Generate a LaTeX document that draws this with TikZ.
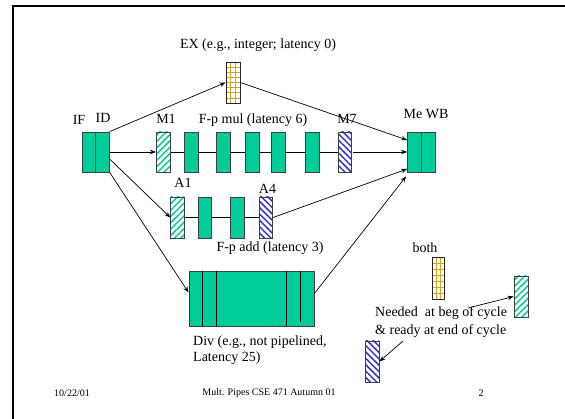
\documentclass[tikz,border=0pt]{standalone}
\usepackage{fontspec}
\setmainfont{Liberation Serif}
\usetikzlibrary{arrows.meta,patterns.meta,calc}

\definecolor{stagegreen}{RGB}{0,204,153}
\definecolor{hatchblue}{RGB}{51,51,204}
\definecolor{gridgold}{RGB}{218,165,32}

\tikzset{
  stage/.style={draw=black!75, line width=0.8pt, fill=stagegreen, minimum width=13.5pt, minimum height=40pt, inner sep=0pt},
  hatchin/.style={stage, pattern={Lines[angle=45,distance=4.5pt,line width=1.5pt]}, pattern color=stagegreen},
  hatchout/.style={stage, pattern={Lines[angle=-45,distance=4.5pt,line width=1.5pt]}, pattern color=hatchblue},
  gridbox/.style={draw=black!85, line width=0.8pt, minimum width=13pt, minimum height=41pt, inner sep=0pt},
  gridline/.style={gridgold, line width=0.7pt},
  link/.style={line width=0.7pt},
  arr/.style={-{Stealth[length=6pt,width=4.5pt]}, line width=0.7pt},
  lbl/.style={font=\fontsize{14}{16}\selectfont, inner sep=0pt},
  foot/.style={font=\fontsize{10}{12}\selectfont, inner sep=0pt}
}

\begin{document}
\begin{tikzpicture}[x=1pt,y=-1pt]
\useasboundingbox (0,0) rectangle (565,419);

% slide frame
\draw[line width=2.2pt] (13,420) -- (13,6) -- (566,6);

% integer unit
\foreach \i in {1,2} \draw[gridline] (226+\i*14/3,62) -- ++(0,41);
\foreach \j in {1,...,7} \draw[gridline] (226,62+\j*41/8) -- ++(14,0);
\node[gridbox, minimum width=14pt] (ex) at (233,82.5) {};

% front end and back end
\node[stage] (if) at (89,152) {};
\node[stage] (id) at (102.5,152) {};
\node[stage, minimum width=14pt] (me) at (414.5,152) {};
\node[stage, minimum width=14pt] (wb) at (428.5,152) {};

% multiplier
\node[hatchin] (m1) at (163.5,152) {};
\node[stage] (m2) at (191.5,152) {};
\node[stage] (m3) at (223.5,152) {};
\node[stage] (m4) at (252.5,152) {};
\node[stage] (m5) at (278.5,152) {};
\node[stage] (m6) at (312.5,152) {};
\node[hatchout] (m7) at (345,152) {};

% adder
\node[hatchin, minimum height=41pt] (a1) at (177.5,217.5) {};
\node[stage, minimum height=41pt] (a2) at (205,217.5) {};
\node[stage, minimum height=41pt] (a3) at (237.5,217.5) {};
\node[hatchout, minimum height=41pt] (a4) at (266,217.5) {};

% divider
\node[stage, minimum width=125pt, minimum height=55pt] (div) at (251.5,298.5) {};
\foreach \dx in {14,28,98}
  \draw[line width=0.8pt] ($(div.north west)+(\dx,0)$) -- ($(div.south west)+(\dx,0)$);
\draw[line width=0.8pt] ($(div.north west)+(112,0)$) -- ($(div.south west)+(112,-4)$);

% legend
\foreach \i in {1,2} \draw[gridline] (432+\i*4,257) -- ++(0,42);
\foreach \j in {1,...,6} \draw[gridline] (432,257+\j*6) -- ++(12,0);
\node[gridbox, minimum width=12pt, minimum height=42pt] (both) at (438,278) {};
\node[hatchin, minimum width=14pt, minimum height=41pt] (hg) at (521,296.5) {};
\node[hatchout, minimum width=14pt, minimum height=41pt] (hb) at (372,361.5) {};

% labels
\node[lbl] (lblex) at (258,45) {EX (e.g., integer; latency 0)};
\node[lbl] (lblif) at (79,120) {IF};
\node[lbl] (lblid) at (103,118) {ID};
\node[lbl] (lblm1) at (166,119) {M1};
\node[lbl] (lblmul) at (253,120) {F-p mul (latency 6)};
\node[lbl] (lblm7) at (347,119) {M7};
\node[lbl] (lblmewb) at (426,114) {Me WB};
\node[lbl] (lbla1) at (183,183) {A1};
\node[lbl] (lbla4) at (267.5,189) {A4};
\node[lbl] (lbladd) at (270,248) {F-p add (latency 3)};
\node[lbl, anchor=west, align=left] (lbldiv) at (193,350) {Div (e.g., not pipelined,\\Latency 25)};
\node[lbl] (lblboth) at (425,248) {both};
\node[lbl, anchor=west, align=left] (note) at (375,322.5) {Needed~ at beg of cycle\\[2pt]\& ready at end of cycle};

% footer
\node[foot] (date) at (72,393) {10/22/01};
\node[foot] (title) at (269,393) {Mult. Pipes CSE 471 Autumn 01};
\node[foot] (page) at (481,393) {2};

% connectors
\draw[arr] (id.north east) -- (ex.west);
\draw[arr] (ex.east) -- ($(me.west)+(0,-12)$);
\draw[arr] (id.east) -- (m1.west);
\foreach \a/\b in {m1/m2,m2/m3,m3/m4,m4/m5,m5/m6,m6/m7}
  \draw[link] (\a) -- (\b);
\draw[arr] (m7) -- (me);
\draw[arr] ($(id.east)+(0,7)$) -- (a1.west);
\draw[link] (a1) -- (a2) -- (a3) -- (a4);
\draw[arr] (a4.east) -- ($(me.west)+(0,17)$);
\draw[arr] (id.south east) -- ($(div.west)+(0,-6)$);
\draw[arr] ($(div.east)+(0,-5)$) -- ($(me.south west)+(-1,4)$);

% legend arrows
\coordinate (n1) at (468,308);
\coordinate (n2) at (403,341);
\draw[arr] (n1) -- (hg.west);
\draw[arr] (n2) -- (hb.east);
\end{tikzpicture}
\end{document}
